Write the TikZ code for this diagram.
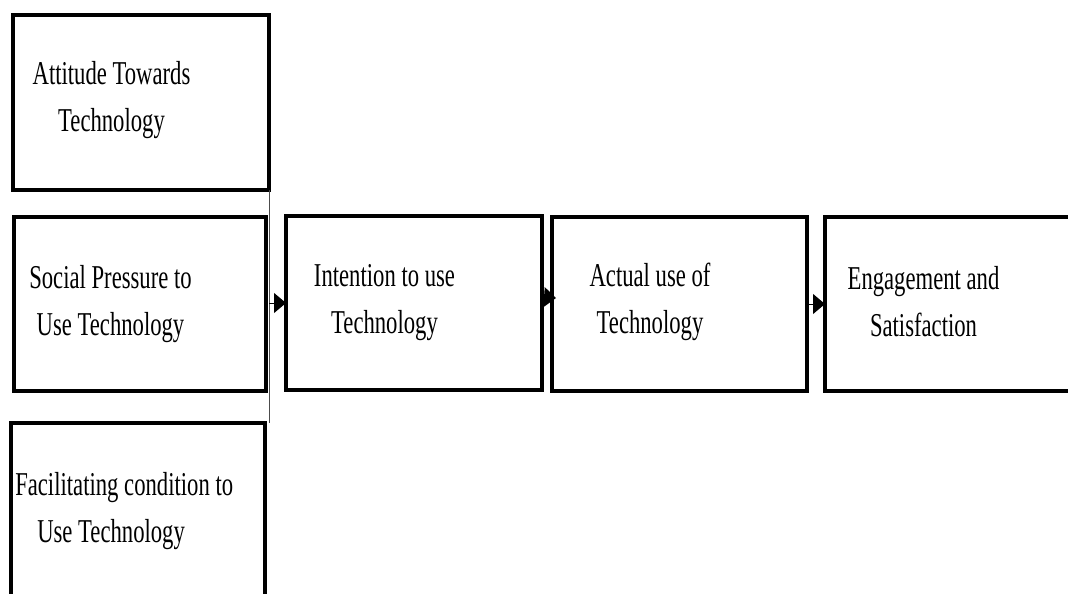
\documentclass[tikz,border=0pt]{standalone}
\usepackage{fontspec}
\setmainfont{Liberation Serif}[FakeStretch=0.68]
\usetikzlibrary{arrows.meta}
\begin{document}
\begin{tikzpicture}[x=0.75pt,y=-0.75pt,
  box/.style={draw=black,line width=2.4pt,inner sep=0pt,outer sep=0pt,fill=none},
  lbl/.style={align=center,inner sep=0pt,font=\fontsize{25}{35}\selectfont,anchor=base},
  conn/.style={line width=0.75pt,-{Triangle[length=9pt,width=15pt]}}]
\clip (0,0) rectangle (1068,593);
\fill[white] (0,0) rectangle (1068,593);
% boxes
\node[box,minimum width=192pt,minimum height=131.25pt] (b1) at (141,102.5) {};
\node[box,minimum width=189pt,minimum height=130.5pt] (b2) at (140,304) {};
\node[box,minimum width=190.5pt,minimum height=140.25pt] (b3) at (138,516.5) {};
\node[box,minimum width=192pt,minimum height=130.5pt] (b4) at (414,303) {};
\node[box,minimum width=191.25pt,minimum height=130.5pt] (b5) at (679.5,304) {};
\node[box,minimum width=191.25pt,minimum height=130.5pt] (b6) at (952.5,304) {};
% texts (anchor at baseline of the last line)
\node[lbl] (t1) at (111.5,131) {Attitude Towards\\Technology};
\node[lbl] (t2) at (110.5,335) {Social Pressure to\\Use Technology};
\node[lbl,align=left,anchor=base west] (t3) at (15,542) {Facilitating condition to\\\hspace*{16.5pt}Use Technology};
\node[lbl] (t4) at (384.5,333) {Intention to use\\Technology};
\node[lbl] (t5) at (650,333) {Actual use of\\Technology};
\node[lbl] (t6) at (923.5,336) {Engagement and\\Satisfaction};
% thin joining line
\coordinate (jt) at (269,190);
\coordinate (jb) at (269,423);
\coordinate (j) at (269,303);
\draw[line width=0.75pt,black!70] (jt) -- (jb);
% connectors
\draw[conn] (j) -- (b4.west);
\draw[conn] ([yshift=4.5pt]b4.east) -- ([yshift=4.5pt,xshift=3pt]b5.west);
\draw[conn] (b5.east) -- (b6.west);
\end{tikzpicture}
\end{document}
